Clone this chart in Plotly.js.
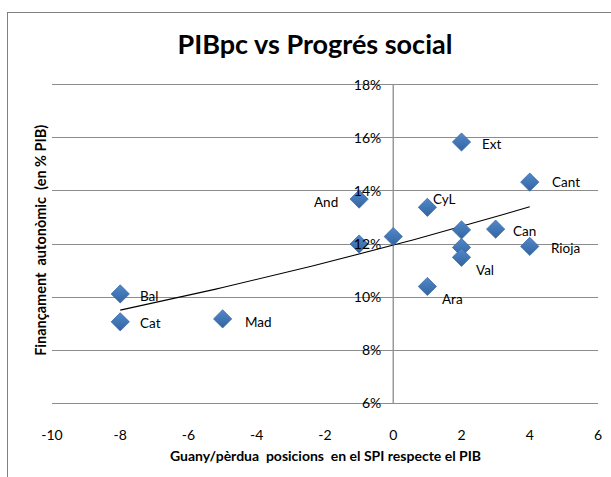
<!DOCTYPE html>
<html>
<head>
<meta charset="utf-8">
<script src="https://cdn.plot.ly/plotly-3.0.1.min.js"></script>
<style>
html,body{margin:0;padding:0;background:#fff;overflow:hidden;}
#wrap{position:relative;width:611px;height:477px;overflow:hidden;}
#chart{position:absolute;left:0;top:0;width:611px;height:477px;}
#frame{position:absolute;left:7px;top:12px;width:640px;height:520px;border-left:1.5px solid #808080;border-top:1.5px solid #808080;pointer-events:none;z-index:10;}
</style>
</head>
<body>
<div id="wrap"><div id="chart"></div><div id="frame"></div></div>
<script>
// Data
var regionLabels = ["Bal", "Cat", "Mad", "And", "", "", "CyL", "Ext", "Cant", "", "Can", "Rioja", "", "Val", "Ara"];
var positionGain = [-8, -8, -5, -1, -1, 0, 1, 2, 4, 2, 3, 4, 2, 2, 1];
var financingPct = [10.12, 9.07, 9.18, 13.69, 12.0, 12.28, 13.38, 15.84, 14.33, 12.53, 12.56, 11.91, 11.87, 11.50, 10.40];
var xTicks = [-10, -8, -6, -4, -2, 0, 2, 4, 6];
var xTickText = ["-10", "-8", "-6", "-4", "-2", "0", "2", "4", "6"];
var yTicks = [6, 8, 10, 12, 14, 16, 18];
var yTickText = ["6%", "8%", "10%", "12%", "14%", "16%", "18%"];

// Label offsets (px) relative to each point: [dx, dy, anchor]
var labelOffsets = {
  "Bal": [18, -2, "left"], "Cat": [18, -1, "left"], "Mad": [20, -3, "left"],
  "And": [-19, -3, "right"], "CyL": [4, 8, "left"], "Ext": [18, -2, "left"],
  "Cant": [20, 0, "left"], "Can": [15, -2, "left"], "Rioja": [19, -2, "left"],
  "Val": [12, -13, "left"], "Ara": [13, -13, "left"]
};

// Exponential trendline (least squares on ln y), as in the spreadsheet
var n = positionGain.length, sx = 0, sy = 0, sxx = 0, sxy = 0;
for (var i = 0; i < n; i++) {
  var lx = positionGain[i], ly = Math.log(financingPct[i]);
  sx += lx; sy += ly; sxx += lx * lx; sxy += lx * ly;
}
var b = (n * sxy - sx * sy) / (n * sxx - sx * sx);
var lnA = (sy - b * sx) / n;
var xMin = Math.min.apply(null, positionGain), xMax = Math.max.apply(null, positionGain);
var trendX = [], trendY = [];
for (var k = 0; k <= 60; k++) {
  var tx = xMin + (xMax - xMin) * k / 60;
  trendX.push(tx); trendY.push(Math.exp(lnA + b * tx));
}

var FONT = "Lato, 'Open Sans', sans-serif";
var W = 611, H = 477;
var mT = 82.35, mB = 71.05, mL = 52, mR = 13;
function py(p) { return (H - mB - p) / (H - mT - mB); }   // pixel -> paper y
function px(p) { return (p - mL) / (W - mL - mR); }       // pixel -> paper x

var traces = [
  {
    x: trendX, y: trendY, type: "scatter", mode: "lines",
    line: {color: "#000000", width: 1.1}, hoverinfo: "skip", showlegend: false
  },
  {
    x: positionGain, y: financingPct, type: "scatter", mode: "markers",
    marker: {symbol: "diamond", size: 14, color: "#5189cb",
             gradient: {type: "vertical", color: "#33649f"},
             line: {color: "#3a6aa8", width: 0.8}},
    showlegend: false
  }
];

var annotations = [];
for (var j = 0; j < n; j++) {
  var lab = regionLabels[j];
  if (!lab) continue;
  var off = labelOffsets[lab];
  annotations.push({
    x: positionGain[j], y: financingPct[j], xref: "x", yref: "y",
    text: lab, showarrow: false, xanchor: off[2], yanchor: "middle",
    xshift: off[0], yshift: off[1],
    font: {family: FONT, size: 13.5, color: "#000"}
  });
}
annotations.push({
  text: "Guany/pèrdua  posicions  en el SPI respecte el PIB",
  xref: "paper", yref: "paper", x: 0.5, y: py(455), xanchor: "center", yanchor: "middle",
  showarrow: false, font: {family: FONT, size: 14, color: "#000", weight: "bold"}
});
annotations.push({
  text: "Finançament  autonòmic  (en % PIB)",
  xref: "paper", yref: "paper", x: px(41), y: py(241), xanchor: "center", yanchor: "middle",
  textangle: -90, showarrow: false, font: {family: FONT, size: 14.5, color: "#000", weight: "bold"}
});

var layout = {
  width: W, height: H,
  margin: {l: mL, r: mR, t: mT, b: mB},
  paper_bgcolor: "#ffffff", plot_bgcolor: "#ffffff",
  title: {
    text: "<b>PIBpc vs Progrés social</b>",
    x: 0.5155, xref: "container", xanchor: "center",
    y: 0.906, yref: "container", yanchor: "middle",
    font: {family: FONT, size: 27, color: "#000"}
  },
  xaxis: {
    range: [-10, 6], tickvals: xTicks, ticktext: xTickText, ticks: "", showgrid: false, zeroline: false,
    showline: false, ticklabelstandoff: 19,
    tickfont: {family: FONT, size: 14, color: "#000"}
  },
  yaxis: {
    range: [5.9, 18.1], tickvals: yTicks, ticktext: yTickText, ticks: "",
    anchor: "free", position: 0.625, side: "left",
    showgrid: true, gridcolor: "#8c8c8c", gridwidth: 1,
    zeroline: false, showline: false,
    ticklabelstandoff: 12,
    tickfont: {family: FONT, size: 14, color: "#000"}
  },
  shapes: [
    {
      type: "line", xref: "x", yref: "y", x0: 0, x1: 0, y0: yTicks[0], y1: yTicks[yTicks.length - 1],
      line: {color: "#9a9a9a", width: 1.5}, layer: "below"
    }
  ],
  annotations: annotations,
  showlegend: false
};

Plotly.newPlot("chart", traces, layout, {displayModeBar: false, staticPlot: true});
</script>
</body>
</html>
